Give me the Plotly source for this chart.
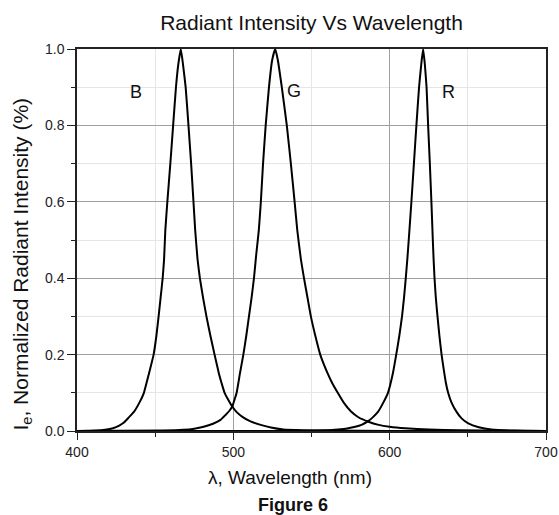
import plotly.graph_objects as go

# Blue LED spectrum
b_wavelength = [400, 412, 418, 423, 427, 430, 433, 436.4, 440, 442.8, 446, 449, 450.8, 452.2, 453.5,
                454.8, 455.7, 456.5, 457.8, 459.7, 461.5, 463.3, 464.8, 466.4,
                467.8, 469.5, 471.3, 473.0, 474.5, 475.6, 477.1, 478.6, 480.6, 482.8, 485.3, 488,
                490.8, 492.5, 494.4, 497, 499.3, 502, 505.8, 511, 517.5, 524, 532, 545, 560, 600, 700]
b_intensity = [0, 0.001, 0.003, 0.007, 0.014, 0.022, 0.035, 0.05, 0.075, 0.1, 0.15, 0.2, 0.25, 0.3, 0.35,
               0.4, 0.45, 0.526, 0.6, 0.7, 0.8, 0.9, 0.96, 1.0,
               0.96, 0.9, 0.8, 0.7, 0.6, 0.526, 0.45, 0.4, 0.35, 0.3, 0.25, 0.2,
               0.15, 0.125, 0.1, 0.08, 0.064, 0.05, 0.037, 0.025, 0.016, 0.009, 0.004, 0.002, 0.001, 0, 0]

# Green LED spectrum
g_wavelength = [400, 455, 468, 475, 481, 487, 491.8, 495, 497.5, 499.3, 501, 502.1, 504.2, 506.4,
                508.3, 510, 511.7, 513.2, 514.6, 516.3, 517.6, 519, 520.7, 522.8, 524.8, 526.8,
                528.5, 531, 534.2, 536.8, 539.2, 540.9, 543.2, 545.2, 547.4, 549.6, 552.4, 555.6,
                560.4, 563.3, 566.8, 570.5, 575.3, 580, 586, 593, 600, 610, 625, 645, 670, 700]
g_intensity = [0, 0.001, 0.003, 0.006, 0.011, 0.019, 0.029, 0.042, 0.053, 0.064, 0.085, 0.1, 0.15, 0.2,
               0.25, 0.3, 0.35, 0.4, 0.46, 0.526, 0.6, 0.7, 0.8, 0.9, 0.97, 1.0,
               0.97, 0.9, 0.8, 0.7, 0.6, 0.526, 0.45, 0.4, 0.35, 0.3, 0.25, 0.2,
               0.15, 0.125, 0.1, 0.075, 0.051, 0.036, 0.025, 0.016, 0.011, 0.007, 0.004, 0.002, 0.001, 0]

# Red LED spectrum
r_wavelength = [400, 540, 555, 565, 572, 578, 582, 586, 589, 592.5, 596, 598.9, 602, 604.2, 606.2,
                607.9, 609.2, 610.3, 611.3, 612.2, 613.9, 615.5, 617.1, 618.8, 620.2, 621.4,
                622.5, 623.6, 624.6, 625.7, 626.7, 627.6, 628.1, 628.7, 629.5, 630.6, 631.8, 633.2,
                635, 636, 637.4, 639.5, 642.8, 646, 650.3, 657, 665, 680, 700]
r_intensity = [0, 0, 0.001, 0.003, 0.006, 0.011, 0.016, 0.025, 0.035, 0.05, 0.075, 0.1, 0.15, 0.2, 0.25,
               0.3, 0.35, 0.4, 0.45, 0.5, 0.6, 0.7, 0.8, 0.9, 0.96, 1.0,
               0.96, 0.9, 0.8, 0.7, 0.6, 0.5, 0.45, 0.4, 0.35, 0.3, 0.25, 0.2,
               0.15, 0.125, 0.1, 0.075, 0.05, 0.033, 0.02, 0.01, 0.004, 0.001, 0]

label_text = ["B", "G", "R"]
label_x = [438, 538.7, 637.8]
label_y = [0.887, 0.891, 0.888]

FONT = "Liberation Sans, Arial, sans-serif"

fig = go.Figure()
for xs, ys, name in [(b_wavelength, b_intensity, "B"), (g_wavelength, g_intensity, "G"),
                     (r_wavelength, r_intensity, "R")]:
    fig.add_trace(go.Scatter(x=xs, y=ys, mode="lines", name=name,
                             line=dict(color="black", width=2, shape="spline", smoothing=0.4),
                             showlegend=False, hoverinfo="x+y"))

for t, x, y in zip(label_text, label_x, label_y):
    fig.add_annotation(x=x, y=y, text=t, showarrow=False, xref="x", yref="y",
                       font=dict(family=FONT, size=18, color="#111"))

fig.add_annotation(xref="paper", yref="paper", x=-0.117, y=0.436, textangle=-90,
                   text="I<sub>e</sub>, Normalized Radiant Intensity (%)", showarrow=False,
                   xanchor="center", yanchor="middle",
                   font=dict(family=FONT, size=21, color="#111"))
fig.add_annotation(xref="paper", yref="paper", x=0.454, y=-0.123,
                   text="λ, Wavelength (nm)", showarrow=False,
                   xanchor="center", yanchor="middle",
                   font=dict(family=FONT, size=19, color="#111"))
fig.add_annotation(xref="paper", yref="paper", x=0.4595, y=-0.194,
                   text="<b>Figure 6</b>", showarrow=False,
                   xanchor="center", yanchor="middle",
                   font=dict(family=FONT, size=18, color="#111"))

fig.update_layout(
    width=559, height=515,
    margin=dict(l=77, r=13, t=49, b=84, autoexpand=False),
    paper_bgcolor="white", plot_bgcolor="white",
    title=dict(text="Radiant Intensity Vs Wavelength", x=0.5, xref="paper",
               y=1 - 23 / 515, yanchor="middle", yref="container",
               font=dict(family=FONT, size=21, color="#111")),
    font=dict(family=FONT, color="#222"),
)
fig.update_xaxes(range=[400, 700], dtick=100, tick0=400, showline=True, linecolor="#222",
                 linewidth=1.5, mirror=True, ticks="outside", ticklen=7, tickcolor="#222",
                 showgrid=True, gridcolor="#a0a0a0", gridwidth=1, zeroline=False,
                 automargin=False,
                 tickfont=dict(family=FONT, size=14, color="#222"),
                 minor=dict(dtick=50, tick0=400, showgrid=True, gridcolor="#e6e6e6",
                            ticks="outside", ticklen=4, tickcolor="#222"))
fig.update_yaxes(range=[0, 1.0], dtick=0.2, tick0=0, tickformat=".1f", showline=True,
                 linecolor="#222", linewidth=1.5, mirror=True, ticks="outside", ticklen=8,
                 tickcolor="#222", showgrid=True, gridcolor="#a0a0a0", gridwidth=1,
                 zeroline=False, automargin=False,
                 tickfont=dict(family=FONT, size=14, color="#222"),
                 minor=dict(dtick=0.1, tick0=0, showgrid=True, gridcolor="#e6e6e6",
                            ticks="outside", ticklen=4, tickcolor="#222"))

fig.write_html("out.html", config={"responsive": False, "displayModeBar": False},
               post_script="document.body.style.margin='0';document.body.style.overflow='hidden';")
